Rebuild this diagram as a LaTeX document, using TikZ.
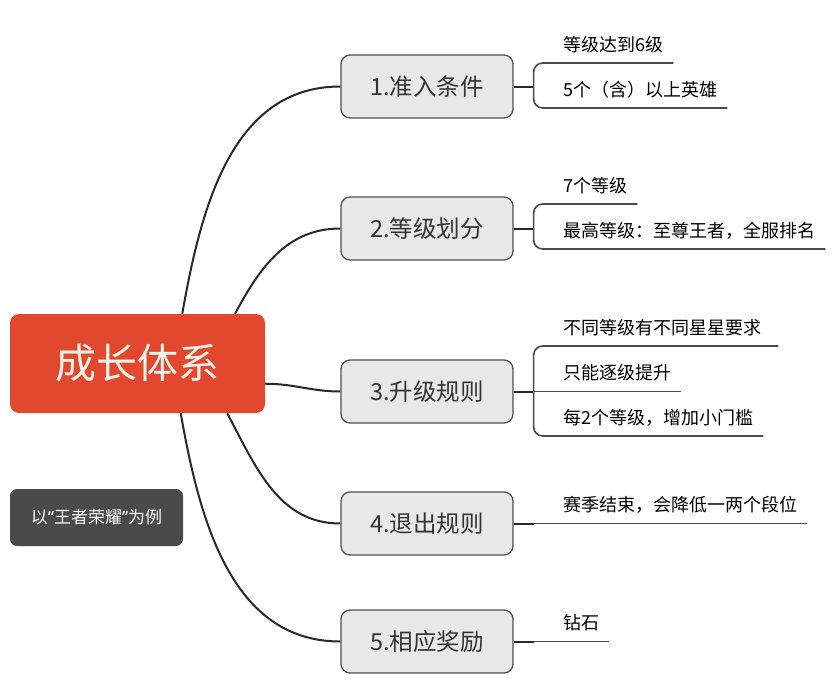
\documentclass[tikz,border=0pt]{standalone}
\usepackage{fontspec}
\setmainfont{Noto Sans CJK SC}
\newfontfamily\quotefont{Noto Sans}
\usepackage{xcolor}
\usepackage{tikz}
\definecolor{rootred}{RGB}{225, 72, 46}
\definecolor{rootink}{RGB}{255, 244, 236}
\definecolor{notegray}{RGB}{74, 74, 74}
\definecolor{branchfill}{RGB}{232, 232, 232}
\definecolor{branchgray}{RGB}{80, 80, 80}
\definecolor{inkgray}{RGB}{51, 51, 51}
\definecolor{linkgray}{RGB}{40, 40, 40}
\definecolor{undergray}{RGB}{75, 75, 75}

\begin{document}
\begin{tikzpicture}[
    x=1pt, y=1pt,
    base/.style={rectangle, rounded corners=9pt, align=center, inner sep=0pt},
    root/.style={base, fill=rootred, text=rootink, font=\fontsize{41}{48}\selectfont, minimum width=255pt, minimum height=99pt},
    branch/.style={base, draw=branchgray, line width=1.3pt, fill=branchfill, text=inkgray, font=\fontsize{23.5}{28}\selectfont, minimum width=172pt, minimum height=63pt},
    note/.style={base, rounded corners=7pt, fill=notegray, text=white, font=\fontsize{17}{20}\selectfont, minimum width=173pt, minimum height=57pt},
    leaf/.style={anchor=south west, inner xsep=10pt, inner ysep=0pt, text height=14pt, text depth=11.5pt, text=black, font=\fontsize{18}{21}\selectfont},
    link/.style={draw=linkgray, line width=2pt},
    under/.style={draw=undergray, line width=1.6pt, rounded corners=9pt}
]
\useasboundingbox (0,0) rectangle (838,-691);

\node[root] (root) at (137.5,-363.5) {成长体系};
\node[note] (note) at (96.5,-517.5) {以{\quotefont “}王者荣耀{\quotefont ”}为例};

\node[branch] (b1) at (427,-86.5) {1.准入条件};
\node[branch] (b2) at (427,-228.5) {2.等级划分};
\node[branch] (b3) at (427,-391.5) {3.升级规则};
\node[branch] (b4) at (427,-523.5) {4.退出规则};
\node[branch] (b5) at (427,-641.5) {5.相应奖励};

\draw[link] (root.48) to[out=80, in=180] (b1.west);
\draw[link] (root.27) to[out=62, in=180] (b2.west);
\draw[link] (root.-9) to[out=0, in=180] (b3.west);
\draw[link] (root.-29) to[out=-62, in=180] (b4.west);
\draw[link] (root.-49) to[out=-80, in=180] (b5.west);

% leaves
\node[leaf] (l11) at (553,-63) {等级达到6级};
\node[leaf] (l12) at (553,-108) {5个（含）以上英雄};
\node[leaf] (l21) at (553,-204) {7个等级};
\node[leaf] (l22) at (553,-249) {最高等级：至尊王者，全服排名};
\node[leaf, inner xsep=17pt, xshift=-7pt] (l31) at (553,-346) {不同等级有不同星星要求};
\node[leaf] (l32) at (553,-391.5) {只能逐级提升};
\node[leaf] (l33) at (553,-436) {每2个等级，增加小门槛};
\node[leaf] (l41) at (553,-523.5) {赛季结束，会降低一两个段位};
\node[leaf] (l51) at (553,-641.5) {钻石};

\draw[link] (b1.east) -- ++(20,0) coordinate (k1);
\draw[under] (l11.south east) -| (k1) |- (l12.south east);

\draw[link] (b2.east) -- ++(20,0) coordinate (k2);
\draw[under] (l21.south east) -| (k2) |- (l22.south east);

\draw[link] (b3.east) -- ++(20,0) coordinate (k3);
\draw[under] (l31.south east) -| (k3) |- (l33.south east);
\draw[under] (k3) -- (l32.south east);

\draw[link] (b4.east) -- ++(20,0) coordinate (k4);
\draw[under] (k4) -- (l41.south east);

\draw[link] (b5.east) -- ++(20,0) coordinate (k5);
\draw[under] (k5) -- (l51.south east);

\end{tikzpicture}
\end{document}
